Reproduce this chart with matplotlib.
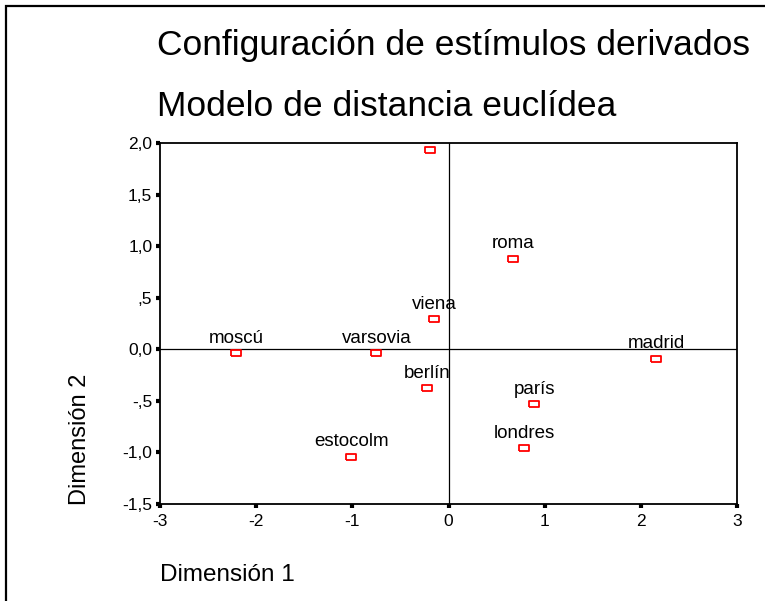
#!/usr/bin/env python3
"""Configuración de estímulos derivados - MDS plot (SPSS look)."""

import matplotlib

matplotlib.use("Agg")
import matplotlib.pyplot as plt
from matplotlib.patches import Rectangle

# stimulus coordinates
cities = ["", "roma", "viena", "moscú", "varsovia", "madrid",
          "berlín", "parís", "londres", "estocolm"]
dim1 = [-0.19, 0.67, -0.15, -2.21, -0.75, 2.16, -0.22, 0.89, 0.79, -1.01]
dim2 = [1.93, 0.88, 0.29, -0.04, -0.04, -0.09, -0.38, -0.53, -0.96, -1.04]

xticks = [-3, -2, -1, 0, 1, 2, 3]
xtick_labels = ["-3", "-2", "-1", "0", "1", "2", "3"]
yticks = [2.0, 1.5, 1.0, 0.5, 0.0, -0.5, -1.0, -1.5]
ytick_labels = ["2,0", "1,5", "1,0", ",5", "0,0", "-,5", "-1,0", "-1,5"]

title_lines = ["Configuración de estímulos derivados", "Modelo de distancia euclídea"]

plt.rcParams["font.family"] = ["Liberation Sans", "DejaVu Sans"]

W, H = 765, 601
fig = plt.figure(figsize=(W / 100, H / 100), dpi=100)

# outer frame (only left/top edges are visible in the original)
fig.add_artist(Rectangle((6 / W, -0.2), 1.5, 1.2 - 6 / H, transform=fig.transFigure,
                         fill=False, edgecolor="black", linewidth=1.6))

fig.text(157 / W, 1 - 55 / H, title_lines[0], fontsize=25.5, va="baseline", ha="left")
fig.text(157 / W, 1 - 116 / H, title_lines[1], fontsize=25.5, va="baseline", ha="left")

ax = fig.add_axes([160 / W, 1 - 504 / H, 577 / W, 361 / H])
ax.set_xlim(-3, 3)
ax.set_ylim(-1.5, 2.0)

ax.axhline(0, color="black", linewidth=0.9, zorder=1)
ax.axvline(0, color="black", linewidth=0.9, zorder=1)

box = [(-1.4, -1), (1.4, -1), (1.4, 1), (-1.4, 1), (-1.4, -1)]
ax.plot(dim1, dim2, linestyle="none", marker=box, markersize=7,
        markerfacecolor="white", markeredgecolor="red", markeredgewidth=1.3, zorder=3)

for name, x, y in zip(cities, dim1, dim2):
    if name:
        ax.annotate(name, (x, y), xytext=(0, 7.5), textcoords="offset points",
                    ha="center", va="baseline", fontsize=13.5)

ax.set_xticks(xticks)
ax.set_xticklabels(xtick_labels)
ax.set_yticks(yticks)
ax.set_yticklabels(ytick_labels)
ax.tick_params(axis="both", direction="out", length=3, width=3, labelsize=12.5,
               color="black", pad=2.5)
ax.tick_params(axis="x", pad=4)

for spine in ax.spines.values():
    spine.set_linewidth(1.3)
    spine.set_color("black")

ax.set_xlabel("Dimensión 1", fontsize=17.5, ha="left", va="top")
ax.xaxis.set_label_coords(0.0, -0.165)
ax.set_ylabel("Dimensión 2", fontsize=17)
ax.yaxis.set_label_coords(-0.12, 0.18)

fig.savefig("out.png", dpi=100)
